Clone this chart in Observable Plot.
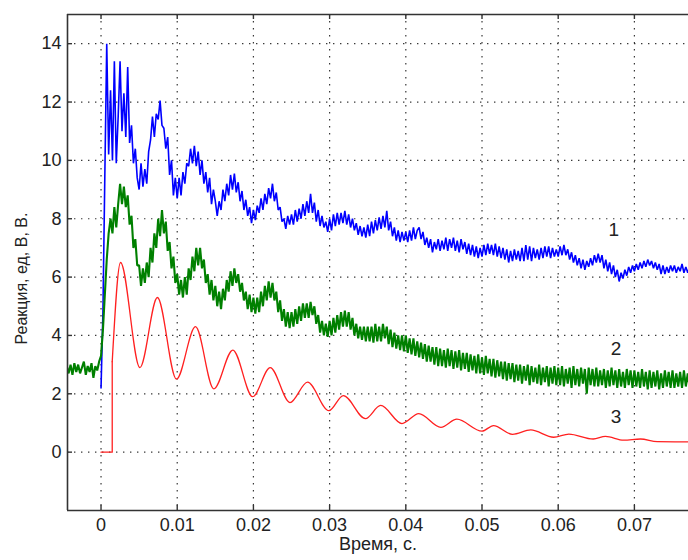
<!DOCTYPE html>
<html>
<head>
<meta charset="utf-8">
<script src="https://cdn.jsdelivr.net/npm/d3@7"></script>
<script src="https://cdn.jsdelivr.net/npm/@observablehq/plot@0.6"></script>
<style>
html, body { margin: 0; padding: 0; background: #fff; overflow: hidden; }
#chart svg { display: block; }
</style>
</head>
<body>
<div id="chart"></div>
<script>
// ---- axis definitions ----
const xDomain = [-0.0044, 0.0771];
const yDomain = [-2, 15];
const xTicks = [0, 0.01, 0.02, 0.03, 0.04, 0.05, 0.06, 0.07];
const xTickLabels = ["0", "0.01", "0.02", "0.03", "0.04", "0.05", "0.06", "0.07"];
const yTicks = [0, 2, 4, 6, 8, 10, 12, 14];
const yTickLabels = ["0", "2", "4", "6", "8", "10", "12", "14"];
const xLabel = "Время, с.";
const yLabel = "Реакция, ед, В, В.";

// ---- curve labels ----
const curveLabels = ["1", "2", "3"];
const curveLabelT = [0.0673, 0.0676, 0.0676];
const curveLabelV = [7.6, 3.53, 1.22];

// ---- sampled signals (uniform sampling) ----
const sampleStep = 0.00025;

// curve 2 (green), starts at t = -0.0045
const greenStart = -0.0045;
const greenValues = [
  2.95, 2.7, 3.0, 2.65, 3.05, 2.75, 3.0, 2.7, 2.9, 3.1, 2.65, 2.95, 2.75, 3.05, 2.55, 2.95, 2.8, 3.1,
  3.3, 4.2, 5.4, 6.6, 7.5, 8.0, 7.5, 8.4, 7.7, 8.5, 9.2, 8.5, 9.1, 8.4, 8.8, 7.8, 8.1, 7.0, 7.3, 6.4,
  6.4, 5.7, 6.3, 5.8, 6.5, 6.0, 7.0, 6.5, 7.5, 7.0, 8.0, 7.4, 8.3, 7.5, 7.9, 6.9, 7.2, 6.3, 6.7, 5.8,
  6.1, 5.4, 5.9, 5.3, 6.0, 5.4, 6.3, 5.9, 6.7, 6.2, 7.0, 6.4, 7.0, 6.3, 6.6, 5.8, 6.1, 5.4, 5.9, 5.2,
  5.7, 5.0, 5.5, 4.9, 5.6, 5.2, 5.9, 5.5, 6.2, 5.7, 6.3, 5.8, 6.1, 5.5, 5.8, 5.2, 5.5, 4.9, 5.4, 4.8,
  5.3, 4.75, 5.3, 4.8, 5.5, 5.0, 5.7, 5.2, 5.85, 5.3, 5.8, 5.2, 5.5, 4.8, 5.2, 4.5, 4.9, 4.3, 4.8, 4.25,
  4.8, 4.3, 4.9, 4.4, 5.0, 4.5, 5.1, 4.6, 5.1, 4.6, 5.15, 4.7, 5.0, 4.4, 4.7, 4.1, 4.5, 4.0, 4.4, 3.95,
  4.5, 4.0, 4.6, 4.1, 4.7, 4.2, 4.8, 4.3, 4.85, 4.3, 4.8, 4.2, 4.6, 4.0, 4.4, 3.9, 4.3, 3.85, 4.3, 3.8,
  4.3, 3.8, 4.3, 3.75, 4.4, 3.8, 4.3, 3.8, 4.4, 3.9, 4.3, 3.7, 4.2, 3.6, 4.1, 3.55, 4.0, 3.5, 4.0, 3.45,
  4.0, 3.4, 3.9, 3.35, 3.9, 3.3, 3.8, 3.25, 3.75, 3.2, 3.7, 3.1, 3.65, 3.1, 3.6, 3.0, 3.6, 2.95, 3.55, 2.95,
  3.5, 2.9, 3.55, 2.95, 3.5, 2.85, 3.45, 2.9, 3.5, 2.8, 3.4, 2.85, 3.4, 2.75, 3.35, 2.8, 3.3, 2.7, 3.35, 2.7,
  3.25, 2.65, 3.3, 2.7, 3.2, 2.6, 3.2, 2.55, 3.15, 2.6, 3.1, 2.5, 3.1, 2.45, 3.05, 2.5, 3.05, 2.4, 3.0, 2.45,
  3.0, 2.35, 2.95, 2.45, 3.0, 2.3, 2.95, 2.4, 2.9, 2.35, 3.0, 2.3, 2.9, 2.4, 2.95, 2.25, 2.9, 2.35, 2.95, 2.3,
  2.9, 2.3, 2.95, 2.25, 2.85, 2.35, 2.9, 2.2, 2.95, 2.3, 2.85, 2.25, 2.9, 2.35, 2.85, 2.0, 2.9, 2.3, 2.85, 2.25,
  2.9, 2.25, 2.8, 2.3, 2.85, 2.2, 2.8, 2.25, 2.9, 2.3, 2.8, 2.2, 2.85, 2.25, 2.75, 2.2, 2.85, 2.3, 2.8, 2.2,
  2.8, 2.25, 2.75, 2.2, 2.85, 2.25, 2.75, 2.15, 2.8, 2.2, 2.75, 2.25, 2.8, 2.15, 2.7, 2.2, 2.8, 2.25, 2.75, 2.2,
  2.8, 2.2, 2.7, 2.25, 2.75, 2.2, 2.8, 2.25, 2.7, 2.2, 2.7
];

// curve 1 (blue), starts at t = 0
const blueStart = 0;
const blueValues = [
  2.2, 4.8, 9.5, 14.0, 10.2, 12.4, 10.0, 13.4, 9.9, 11.5, 13.4, 11.0, 12.3, 10.8, 13.2, 10.6, 11.2, 9.9, 10.4, 9.4,
  9.0, 9.9, 9.1, 9.7, 9.2, 10.3, 10.7, 11.5, 10.8, 11.6, 11.4, 12.05, 11.2, 11.1, 10.4, 10.8, 9.5, 10.0, 8.8, 9.4,
  8.7, 9.4, 8.8, 9.6, 9.2, 9.9, 9.8, 10.4, 9.9, 10.5, 9.8, 10.3, 9.5, 10.0, 9.2, 9.6, 8.9, 9.4, 8.5, 9.0,
  8.6, 8.1, 8.6, 8.3, 9.0, 8.6, 9.2, 8.8, 9.5, 9.0, 9.55, 8.9, 9.25, 8.6, 8.95, 8.3, 8.65, 8.1, 8.4, 7.85,
  8.3, 7.95, 8.45, 8.2, 8.7, 8.3, 8.85, 8.5, 9.05, 8.7, 9.2, 8.6, 8.9, 8.3, 8.4, 7.9, 8.0, 7.65, 8.1, 7.8,
  8.15, 7.8, 8.3, 7.9, 8.35, 8.0, 8.5, 8.1, 8.6, 8.2, 8.85, 8.2, 8.55, 7.9, 8.3, 7.75, 8.1, 7.7, 7.9, 7.55,
  8.0, 7.6, 8.15, 7.75, 8.2, 7.8, 8.2, 7.85, 8.27, 7.8, 8.15, 7.7, 8.0, 7.6, 7.85, 7.45, 7.75, 7.4, 7.7, 7.35,
  7.8, 7.4, 7.9, 7.5, 7.95, 7.6, 8.05, 7.65, 8.1, 7.7, 8.27, 7.6, 7.9, 7.4, 7.7, 7.25, 7.6, 7.2, 7.55, 7.25,
  7.55, 7.2, 7.6, 7.25, 7.7, 7.3, 7.6, 7.7, 7.3, 7.55, 7.1, 7.35, 7.0, 7.3, 6.85, 7.2, 6.95, 7.3, 6.9, 7.25,
  6.95, 7.35, 6.9, 7.3, 7.0, 7.35, 6.9, 7.25, 6.85, 7.3, 6.95, 7.2, 6.8, 7.15, 6.75, 7.1, 6.7, 7.05, 6.65, 7.0,
  6.7, 7.1, 6.75, 7.15, 6.8, 7.1, 6.75, 7.15, 6.7, 7.05, 6.65, 7.0, 6.6, 6.95, 6.5, 6.9, 6.55, 6.95, 6.6, 6.9,
  6.55, 7.0, 6.55, 7.1, 6.6, 7.05, 6.55, 7.0, 6.65, 6.95, 6.6, 7.0, 6.65, 7.05, 6.7, 7.05, 6.65, 7.0, 6.7, 6.95,
  6.7, 7.05, 6.75, 7.1, 6.75, 6.95, 6.6, 6.85, 6.5, 6.75, 6.4, 6.65, 6.3, 6.6, 6.25, 6.55, 6.35, 6.65, 6.4, 6.75,
  6.5, 6.8, 6.5, 6.75, 6.3, 6.6, 6.2, 6.5, 6.1, 6.4, 6.0, 6.25, 5.85, 6.15, 5.95, 6.25, 6.05, 6.35, 6.15, 6.4,
  6.2, 6.45, 6.25, 6.5, 6.3, 6.55, 6.35, 6.6, 6.4, 6.55, 6.3, 6.5, 6.25, 6.45, 6.1, 6.4, 6.1, 6.35, 6.15, 6.4,
  6.2, 6.4, 6.15, 6.35, 6.2, 6.45, 6.15, 6.35, 6.15, 6.35, 6.25
];

// curve 3 (red): switch-on step, then damped oscillation (peaks and troughs)
const redStepT = [0, 0.00147, 0.00147];
const redStepV = [0, 0, 3.1];
const redOscT = [0.00147, 0.00256, 0.0051, 0.0074, 0.0099, 0.0124, 0.0148, 0.0173, 0.0199, 0.0222,
                 0.0248, 0.0271, 0.0299, 0.0318, 0.0347, 0.0367, 0.0395, 0.0417, 0.0446, 0.0467,
                 0.0500, 0.0515, 0.0540, 0.0564, 0.0594, 0.0614, 0.0646, 0.0662, 0.0686, 0.0708,
                 0.0730, 0.0775];
const redOscV = [3.1, 6.5, 2.9, 5.3, 2.5, 4.3, 2.17, 3.5, 1.9, 2.9,
                 1.7, 2.4, 1.42, 1.94, 1.15, 1.6, 0.98, 1.32, 0.85, 1.13,
                 0.72, 0.91, 0.61, 0.76, 0.51, 0.62, 0.45, 0.54, 0.41, 0.45,
                 0.36, 0.35];

// ---- build tables ----
const green = greenValues.map((v, i) => ({t: greenStart + i * sampleStep, v}));
const blue = blueValues.map((v, i) => ({t: blueStart + i * sampleStep, v}));
const redStep = redStepT.map((t, i) => ({t, v: redStepV[i]}));
const redOsc = redOscT.map((t, i) => ({t, v: redOscV[i]}));
const labels = curveLabels.map((s, i) => ({s, t: curveLabelT[i], v: curveLabelV[i]}));

// ---- layout ----
const W = 688, H = 560, mL = 67, mT = 14, mB = 50, mR = 0;
const tickLen = 5;
const frameH = H - mT - mB, frameW = W - mL - mR;
const axisColor = "#333";
const gridStyle = {stroke: "#222", strokeOpacity: 0.9, strokeWidth: 1.2, strokeDasharray: "1.4,5.6"};

const chart = Plot.plot({
  width: W, height: H,
  marginLeft: mL, marginTop: mT, marginBottom: mB, marginRight: mR,
  style: {fontFamily: "'Liberation Sans', Arial, sans-serif", fontSize: "18px", color: "#222", background: "#fff"},
  x: {domain: xDomain},
  y: {domain: yDomain},
  marks: [
    Plot.gridX(xTicks, gridStyle),
    Plot.gridY(yTicks, gridStyle),
    Plot.line(blue, {x: "t", y: "v", stroke: "#0000ff", strokeWidth: 1.6, strokeLinejoin: "miter", clip: true}),
    Plot.line(green, {x: "t", y: "v", stroke: "#008000", strokeWidth: 2.1, strokeLinejoin: "miter", clip: true}),
    Plot.line(redStep, {x: "t", y: "v", stroke: "#ff2020", strokeWidth: 1.3, clip: true}),
    Plot.line(redOsc, {x: "t", y: "v", stroke: "#ff2020", strokeWidth: 1.3, curve: "monotone-x", clip: true}),
    // axes frame (left, bottom, top)
    Plot.ruleX([xDomain[0]], {stroke: axisColor, strokeWidth: 1.6}),
    Plot.ruleY([yDomain[0]], {stroke: axisColor, strokeWidth: 1.6}),
    Plot.ruleY([yDomain[1]], {stroke: axisColor, strokeWidth: 1.6}),
    // inward ticks
    Plot.tickX(xTicks, {x: d => d, insetTop: frameH - tickLen, stroke: axisColor, strokeWidth: 1.4}),
    Plot.tickX(xTicks, {x: d => d, insetBottom: frameH - tickLen, stroke: axisColor, strokeWidth: 1.4}),
    Plot.tickY(yTicks, {y: d => d, insetRight: frameW - tickLen, stroke: axisColor, strokeWidth: 1.4}),
    // tick labels
    Plot.axisX(xTicks, {tickSize: 0, tickPadding: 8, tickFormat: (d, i) => xTickLabels[i], label: null, fill: "#222"}),
    Plot.axisY(yTicks, {tickSize: 0, tickPadding: 6, tickFormat: (d, i) => yTickLabels[i], label: null, fill: "#222"}),
    // axis titles
    Plot.text([xLabel], {frameAnchor: "bottom", dy: 39, fontSize: 18, fill: "#222"}),
    Plot.text([yLabel], {frameAnchor: "left", textAnchor: "middle", rotate: -90, dx: -46, dy: 16, fontSize: 16, fill: "#222"}),
    // curve labels
    Plot.text(labels, {x: "t", y: "v", text: "s", fontSize: 19, fill: "#222"})
  ]
});
document.getElementById("chart").appendChild(chart);
</script>
</body>
</html>
